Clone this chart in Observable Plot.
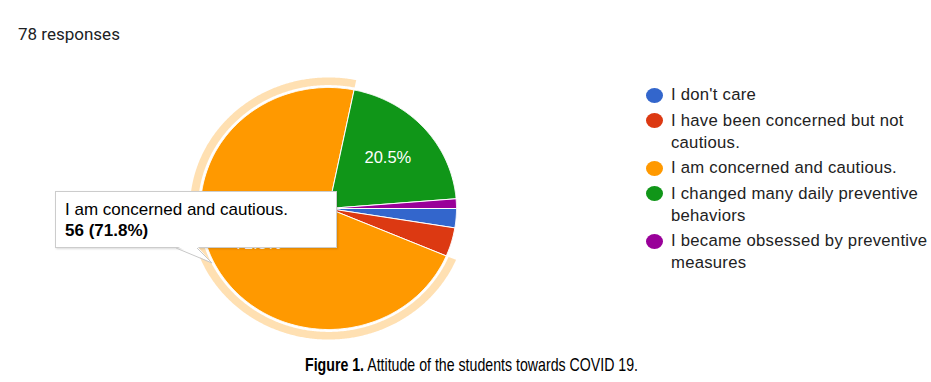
<!DOCTYPE html>
<html>
<head>
<meta charset="utf-8">
<script src="https://cdn.jsdelivr.net/npm/d3@7"></script>
<script src="https://cdn.jsdelivr.net/npm/@observablehq/plot@0.6"></script>
<style>
  body { margin:0; width:931px; height:382px; position:relative; background:#fff; overflow:hidden; }
  #title { position:absolute; left:18px; top:24px; font:17px Roboto, Arial, sans-serif; color:#202124; }
  #chart { position:absolute; left:0; top:0; }
  #legend { position:absolute; left:646px; top:84px; width:285px; font:16.7px "Liberation Sans", Arial, sans-serif; letter-spacing:0.25px; color:#222; }
  .item { display:flex; align-items:flex-start; margin-bottom:3.5px; line-height:22px; }
  .dot { width:17px; height:15px; border-radius:50%; margin-top:3.5px; margin-right:8px; flex:none; }
  .lab { width:260px; }
  #tooltip { position:absolute; left:55px; top:191px; width:280px; height:55px; background:#fff; border:1px solid #cccccc;
             box-shadow:1px 1px 2px rgba(0,0,0,0.15); font:17px "Liberation Sans", Arial, sans-serif; color:#000;
             box-sizing:content-box; padding:0; }
  #tooltip .l1 { position:absolute; left:9px; top:7px; line-height:21px; white-space:nowrap; }
  #tooltip .l2 { position:absolute; left:9px; top:28px; line-height:21px; font-weight:bold; white-space:nowrap; }
  #tail { position:absolute; left:0; top:0; }
  #caption { position:absolute; left:305px; top:355px; font:18.5px "Liberation Sans Narrow", "Liberation Sans", Arial, sans-serif; color:#000; white-space:nowrap; transform-origin:0 0; display:inline-block; line-height:20px; }
</style>
</head>
<body>
<div id="title"></div>
<div id="chart"></div>
<div id="legend"></div>
<div id="tooltip"><div class="l1"></div><div class="l2"></div></div>
<svg id="tail" width="931" height="382"></svg>
<div id="caption"><b>Figure 1.</b> Attitude of the students towards COVID 19.</div>
<script>
// ---- data ----
const totalResponses = 78;
const categories = [
  "I don't care",
  "I have been concerned but not cautious.",
  "I am concerned and cautious.",
  "I changed many daily preventive behaviors",
  "I became obsessed by preventive measures"
];
const counts = [2, 3, 56, 16, 1];
const colors = ["#3366cc", "#dc3912", "#ff9900", "#109618", "#990099"];
const highlighted = 2; // slice shown with hover ring + tooltip

// ---- derived geometry (unit circle in data space) ----
const arcs = d3.pie().sort(null).value(d => d)
  .startAngle(Math.PI / 2).endAngle(Math.PI / 2 + 2 * Math.PI)(counts);

const deg = Math.PI / 180;
function arcPts(a0, a1, r) {
  const n = Math.max(2, Math.ceil(Math.abs(a1 - a0) / (0.5 * deg)));
  const pts = [];
  for (let i = 0; i <= n; i++) {
    const a = a0 + (a1 - a0) * i / n;
    pts.push([r * Math.sin(a), r * Math.cos(a)]);
  }
  return pts;
}

const slicePts = [];
arcs.forEach((a, i) => {
  const pts = [[0, 0], ...arcPts(a.startAngle, a.endAngle, 1), [0, 0]];
  pts.forEach(([x, y]) => slicePts.push({slice: categories[i], x, y}));
});

const h = arcs[highlighted];
const ringPts = [...arcPts(h.startAngle, h.endAngle, 1.083), ...arcPts(h.endAngle, h.startAngle, 1.02)]
  .map(([x, y]) => ({x, y}));
ringPts.push(ringPts[0]);

const pctText = i => (counts[i] / totalResponses * 100).toFixed(1) + "%";
const labels = arcs.map((a, i) => {
  const m = (a.startAngle + a.endAngle) / 2;
  return {x: 0.62 * Math.sin(m), y: 0.63 * Math.cos(m), text: pctText(i), show: counts[i] / totalResponses > 0.1};
}).filter(d => d.show);

const chart = Plot.plot({
  width: 931,
  height: 382,
  margin: 0,
  x: {domain: [-1, 1], range: [200, 456], axis: null},
  y: {domain: [-1, 1], range: [329, 87], axis: null},
  color: {domain: categories, range: colors},
  style: {background: "transparent", overflow: "visible"},
  marks: [
    Plot.line(ringPts, {x: "x", y: "y", fill: colors[highlighted], fillOpacity: 0.3, stroke: "none"}),
    Plot.line(slicePts, {x: "x", y: "y", z: "slice", fill: "slice", stroke: "white", strokeWidth: 1, strokeLinejoin: "round"}),
    Plot.text(labels, {x: "x", y: "y", text: "text", fill: "white", fontSize: 16.5, fontFamily: "Liberation Sans, Arial, sans-serif"})
  ]
});
document.getElementById("chart").appendChild(chart);

document.getElementById("title").textContent = totalResponses + " responses";

const legend = document.getElementById("legend");
categories.forEach((c, i) => {
  const item = document.createElement("div");
  item.className = "item";
  item.innerHTML = `<span class="dot" style="background:${colors[i]}"></span><span class="lab"></span>`;
  item.querySelector(".lab").textContent = c;
  legend.appendChild(item);
});

document.querySelector("#tooltip .l1").textContent = categories[highlighted];
document.querySelector("#tooltip .l2").textContent = `${counts[highlighted]} (${pctText(highlighted)})`;

// tooltip tail
const tail = d3.select("#tail");
tail.append("polygon").attr("points", "176,246 197,246 212,263").attr("fill", "#fff");
tail.append("polyline").attr("points", "176,248 212,263 197,248").attr("fill", "none").attr("stroke", "#c8c8c8").attr("stroke-width", 1);

// condensed caption: fit to the reference's width
const cap = document.getElementById("caption");
const w = cap.getBoundingClientRect().width;
cap.style.transform = `scaleX(${333 / w})`;
</script>
</body>
</html>
